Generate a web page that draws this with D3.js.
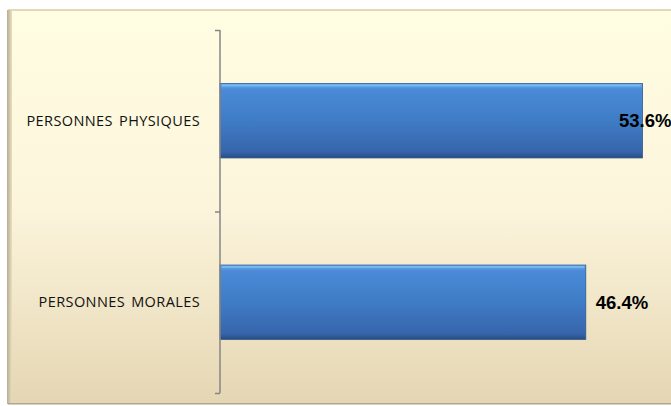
<!DOCTYPE html>
<html>
<head>
<meta charset="utf-8">
<script src="https://cdn.jsdelivr.net/npm/d3@7"></script>
<style>
  body { margin: 0; background: #fff; }
  svg { display: block; }
</style>
</head>
<body>
<svg width="671" height="406"></svg>
<script>
var categories = ["PERSONNES PHYSIQUES", "PERSONNES MORALES"];
var values = [53.6, 46.4];
var valueLabels = ["53.6%", "46.4%"];

var W = 671, H = 406;
var svg = d3.select("svg");
var defs = svg.append("defs");

var bg = defs.append("linearGradient").attr("id", "bg")
  .attr("x1", 0).attr("y1", 0).attr("x2", 0).attr("y2", 1);
bg.append("stop").attr("offset", "0%").attr("stop-color", "#fffde2");
bg.append("stop").attr("offset", "50%").attr("stop-color", "#fcf5dc");
bg.append("stop").attr("offset", "100%").attr("stop-color", "#e5d6b3");

var leftEdge = defs.append("linearGradient").attr("id", "leftEdge")
  .attr("x1", 0).attr("y1", 0).attr("x2", 1).attr("y2", 0);
leftEdge.append("stop").attr("offset", "0%").attr("stop-color", "#b8ad93");
leftEdge.append("stop").attr("offset", "100%").attr("stop-color", "#e9dfc0");

var barGrad = defs.append("linearGradient").attr("id", "barGrad")
  .attr("x1", 0).attr("y1", 0).attr("x2", 0).attr("y2", 1);
barGrad.append("stop").attr("offset", "0%").attr("stop-color", "#6aaef0");
barGrad.append("stop").attr("offset", "8%").attr("stop-color", "#4a8ad6");
barGrad.append("stop").attr("offset", "50%").attr("stop-color", "#3f7cc6");
barGrad.append("stop").attr("offset", "92%").attr("stop-color", "#3765ab");
barGrad.append("stop").attr("offset", "100%").attr("stop-color", "#2a4c80");

// chart area background
svg.append("rect").attr("x", 8).attr("y", 9).attr("width", W - 8).attr("height", 395)
  .attr("fill", "url(#bg)");
svg.append("rect").attr("x", 8).attr("y", 9).attr("width", W - 8).attr("height", 2)
  .attr("fill", "#e4d8bb");
svg.append("rect").attr("x", 7).attr("y", 10).attr("width", 5).attr("height", 394)
  .attr("fill", "url(#leftEdge)");
svg.append("rect").attr("x", 8).attr("y", 403).attr("width", W - 8).attr("height", 1.5)
  .attr("fill", "#b0a68e");

var plotLeft = 220, plotTop = 30, plotBottom = 393;

var x = d3.scaleLinear().domain([0, 60]).range([plotLeft, plotLeft + 473]);
var y = d3.scaleBand().domain(categories).range([plotTop, plotBottom]).paddingInner(0.59).paddingOuter(0.295);

// bars
var bars = svg.append("g").selectAll("g").data(values).enter().append("g");
bars.append("rect")
  .attr("x", x(0))
  .attr("y", function(d, i) { return y(categories[i]); })
  .attr("width", function(d) { return x(d) - x(0); })
  .attr("height", y.bandwidth())
  .attr("fill", "url(#barGrad)")
  .attr("stroke", "#2f5a92").attr("stroke-width", 0.8);
bars.append("line")
  .attr("x1", x(0) + 2).attr("x2", function(d) { return x(d) - 2; })
  .attr("y1", function(d, i) { return y(categories[i]) + 2; })
  .attr("y2", function(d, i) { return y(categories[i]) + 2; })
  .attr("stroke", "#7cbcf5").attr("stroke-width", 2).attr("opacity", 0.8);

// axis
var yAxis = d3.axisLeft(d3.scaleLinear().domain([0, 2]).range([plotBottom, plotTop]))
  .ticks(2).tickSize(5).tickFormat("");
var ax = svg.append("g").attr("transform", "translate(" + plotLeft + ",0)").call(yAxis);
ax.selectAll("path,line").attr("stroke", "#868686").attr("stroke-width", 1.5);
ax.select(".domain").attr("d", "M0," + plotTop + "V" + plotBottom);

// category labels
svg.append("g").selectAll("text").data(categories).enter().append("text")
  .attr("x", 200)
  .attr("y", function(d) { return y(d) + y.bandwidth() / 2; })
  .attr("dy", "0.35em")
  .attr("text-anchor", "end")
  .attr("font-family", "'Open Sans', sans-serif")
  .attr("font-size", 14.5)
  .attr("letter-spacing", 0.4)
  .attr("word-spacing", 2)
  .attr("fill", "#111")
  .text(function(d) { return d; });

// value labels
svg.append("g").selectAll("text").data(values).enter().append("text")
  .attr("x", function(d) { return Math.min(x(d) + 10, W - 52); })
  .attr("y", function(d, i) { return y(categories[i]) + y.bandwidth() / 2; })
  .attr("dy", "0.35em")
  .attr("font-family", "'Liberation Sans', Arial, sans-serif")
  .attr("font-weight", "bold")
  .attr("font-size", 18.5)
  .attr("fill", "#000")
  .text(function(d, i) { return valueLabels[i]; });
</script>
</body>
</html>
